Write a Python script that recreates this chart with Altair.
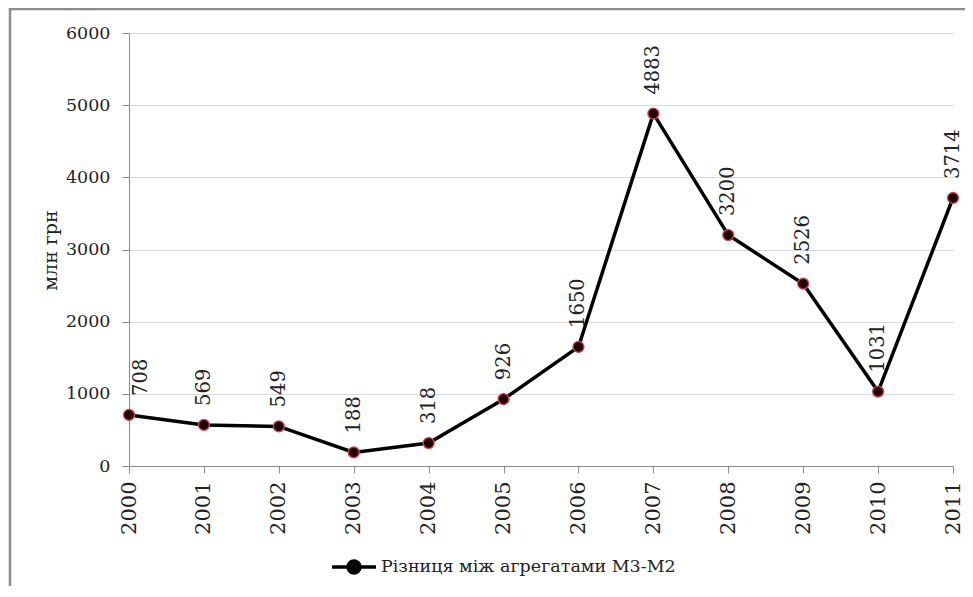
import altair as alt
import pandas as pd

years = ["2000", "2001", "2002", "2003", "2004", "2005", "2006", "2007", "2008", "2009", "2010", "2011"]
values = [708, 569, 549, 188, 318, 926, 1650, 4883, 3200, 2526, 1031, 3714]
series_name = "Різниця між агрегатами М3-М2"
y_ticks = [0, 1000, 2000, 3000, 4000, 5000, 6000]

df = pd.DataFrame({"year": years, "value": values, "series": [series_name] * len(years)})

FONT = "DejaVu Serif"

x_enc = alt.X("year:N", sort=years, title=None,
              scale=alt.Scale(type="point", padding=0),
              axis=alt.Axis(labelAngle=-90, labelFont=FONT, labelFontSize=21, labelColor="#222",
                            tickSize=7, tickColor="#8a8a8a", domainColor="#8a8a8a", labelPadding=8,
                            grid=False, labelAlign="right", labelBaseline="middle"))
y_enc = alt.Y("value:Q", scale=alt.Scale(domain=[0, 6000], nice=False),
              axis=alt.Axis(values=y_ticks, format="d", title="млн грн", titleFont=FONT, titleFontSize=19,
                            titleFontWeight="normal", titleColor="#222", titleAngle=270,
                            titleX=-79, titleY=217, titleAlign="center", titleBaseline="middle",
                            labelFont=FONT, labelFontSize=17.5, labelColor="#222", labelPadding=12,
                            tickSize=7, tickColor="#8a8a8a", domainColor="#8a8a8a",
                            gridColor="#d9d9d9", gridWidth=1.2))

base = alt.Chart(df)

symbol_path = ("M-1,0 L1,0 M0.27,0 A0.27,0.27 0 1,1 -0.27,0 A0.27,0.27 0 1,1 0.27,0 Z")

line = base.mark_line(strokeWidth=3.5).encode(
    x=x_enc, y=y_enc,
    color=alt.Color("series:N", scale=alt.Scale(domain=[series_name], range=["black"]),
                    legend=alt.Legend(title=None, orient="none", legendX=201, legendY=510,
                                      symbolType=symbol_path, symbolSize=1936,
                                      symbolStrokeWidth=3.5, symbolStrokeColor="black",
                                      symbolFillColor="black",
                                      labelFont=FONT, labelFontSize=17.5, labelColor="#222",
                                      labelOffset=3, padding=0, labelLimit=500))
)

points = base.mark_point(filled=True, size=120, fill="#220000", stroke="#d04858",
                         strokeWidth=1.3, opacity=1).encode(x=x_enc, y=y_enc)

labels_main = base.mark_text(angle=270, align="left", baseline="middle", dx=19,
                             font=FONT, fontSize=19.5, color="#222").encode(
    x=x_enc, y=y_enc, text=alt.Text("value:Q", format="d")
).transform_filter(alt.datum.year != "2000")

labels_first = base.mark_text(angle=270, align="left", baseline="middle", dx=19, dy=12,
                              font=FONT, fontSize=19.5, color="#222").encode(
    x=x_enc, y=y_enc, text=alt.Text("value:Q", format="d")
).transform_filter(alt.datum.year == "2000")

border_left = alt.Chart(pd.DataFrame({"a": [0]})).mark_rule(color="#8c8c8c", strokeWidth=2.5).encode(
    x=alt.value(-119), y=alt.value(-25), y2=alt.value(560))
border_top = alt.Chart(pd.DataFrame({"a": [0]})).mark_rule(color="#8c8c8c", strokeWidth=2.5).encode(
    x=alt.value(-120), x2=alt.value(850), y=alt.value(-24))

chart = alt.layer(border_left, border_top, line, points, labels_main, labels_first).properties(
    width=824, height=433,
    autosize=alt.AutoSizeParams(type="none"),
    padding={"left": 121, "top": 25, "right": 12, "bottom": 120},
    background="white",
).configure_view(strokeWidth=0)

chart.save("out.html", embed_options={"renderer": "svg", "actions": False})
